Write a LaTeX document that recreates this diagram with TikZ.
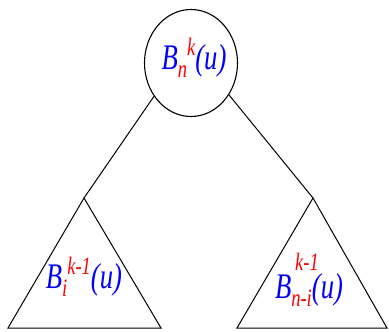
\documentclass[tikz,border=0pt]{standalone}
\usepackage{fontspec}
\setmainfont{Liberation Serif}
\usetikzlibrary{shapes.geometric}
\newcommand{\bigf}{\fontsize{36}{36}\selectfont}
\newcommand{\smf}{\fontsize{25}{25}\selectfont}
\newcommand{\narrow}[1]{\scalebox{0.74}[1]{#1}}
\tikzset{
  edge/.style={draw=black, line width=1pt},
  lbl/.style={inner sep=0pt, font=\itshape},
}
\begin{document}
\begin{tikzpicture}[x=1pt,y=-1pt]
\useasboundingbox (0,0) rectangle (389,332);
% root
\node[ellipse, draw, line width=1.1pt, minimum width=93pt, minimum height=107pt, inner sep=0pt] (root) at (191,63) {};
\node[lbl, anchor=base] (rlabel) at (194,70) {\narrow{\bigf\color{blue}B\raisebox{-8pt}{\smf\color{red}n}\raisebox{14pt}{\smf\color{red}k}(u)}};
% triangles
\coordinate (la) at (84,198);
\coordinate (lb) at (8,328);
\coordinate (lc) at (161,328);
\coordinate (ra) at (313,198);
\coordinate (rb) at (237,328);
\coordinate (rc) at (387,328);
\draw[edge] (la) -- (lb) -- (lc) -- cycle;
\draw[edge] (ra) -- (rb) -- (rc) -- cycle;
% connectors
\draw[edge] (root.222) -- (la);
\draw[edge] (root.320) -- (ra);
% labels
\node[lbl, anchor=base] (llabel) at (84,288) {\narrow{\bigf\color{blue}B\raisebox{-8pt}{\smf\color{red}i}\raisebox{14pt}{\smf\color{red}k-1}(u)}};
\node[lbl, anchor=base] (rtop) at (307,270) {\narrow{\smf\color{red}k-1}};
\node[lbl, anchor=base] (rlab2) at (309,298) {\narrow{\bigf\color{blue}B\raisebox{-8pt}{\smf\color{red}n-i}(u)}};
\end{tikzpicture}
\end{document}
